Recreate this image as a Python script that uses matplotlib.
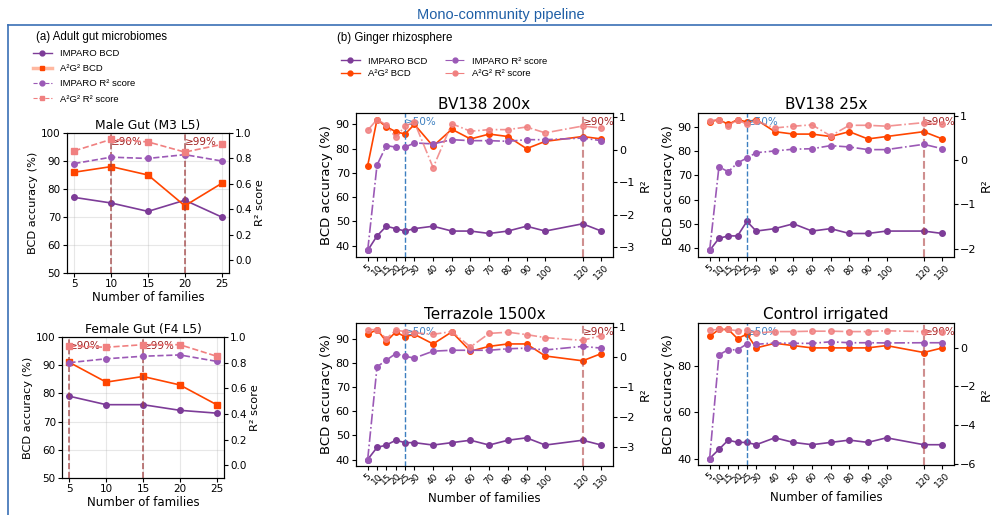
import matplotlib
matplotlib.use('Agg')
import matplotlib.pyplot as plt
from matplotlib.lines import Line2D

W, H = 992, 515

PURPLE = '#7D3C98'
LPURPLE = '#9B59B6'
ORANGE = '#FF4500'
LCORAL = '#F08080'
BLUE = '#3C7FC0'
DRED = '#A02020'
FRAME = '#3A70B5'

# ---- adult gut data ----
gut_families = [5, 10, 15, 20, 25]

male_imparo_bcd = [77, 75, 72, 76, 70]
male_a2g2_bcd = [86, 88, 85, 74, 82]
male_imparo_r2 = [0.76, 0.81, 0.80, 0.83, 0.78]
male_a2g2_r2 = [0.86, 0.95, 0.93, 0.85, 0.91]

female_imparo_bcd = [79, 76, 76, 74, 73]
female_a2g2_bcd = [91, 84, 86, 83, 76]
female_imparo_r2 = [0.80, 0.83, 0.85, 0.86, 0.81]
female_a2g2_r2 = [0.93, 0.92, 0.94, 0.94, 0.85]

# ---- ginger rhizosphere data ----
ginger_families = [5, 10, 15, 20, 25, 30, 40, 50, 60, 70, 80, 90, 100, 120, 130]

bv200_imparo_bcd = [38, 44, 48, 47, 46, 47, 48, 46, 46, 45, 46, 48, 46, 49, 46]
bv200_a2g2_bcd = [73, 92, 89, 87, 86, 90, 81, 88, 84, 86, 85, 80, 83, 85, 84]
bv200_imparo_r2 = [-3.10, -0.47, 0.13, 0.08, 0.08, 0.21, 0.18, 0.31, 0.28, 0.28, 0.26, 0.31, 0.31, 0.36, 0.28]
bv200_a2g2_r2 = [0.60, 0.93, 0.76, 0.38, 0.73, 0.85, -0.55, 0.80, 0.57, 0.62, 0.62, 0.70, 0.52, 0.73, 0.67]

bv25_imparo_bcd = [39, 44, 45, 45, 51, 47, 48, 50, 47, 48, 46, 46, 47, 47, 46]
bv25_a2g2_bcd = [92, 93, 91, 93, 92, 93, 88, 87, 87, 86, 88, 85, 86, 88, 85]
bv25_imparo_r2 = [-2.04, -0.15, -0.26, -0.06, 0.05, 0.17, 0.21, 0.25, 0.26, 0.33, 0.30, 0.24, 0.24, 0.36, 0.26]
bv25_a2g2_r2 = [0.89, 0.92, 0.78, 0.92, 0.81, 0.89, 0.73, 0.77, 0.80, 0.55, 0.79, 0.79, 0.77, 0.85, 0.81]

terra_imparo_bcd = [40, 45, 46, 48, 47, 47, 46, 47, 48, 46, 48, 49, 46, 48, 46]
terra_a2g2_bcd = [92, 94, 89, 93, 91, 92, 88, 93, 85, 87, 88, 88, 83, 81, 84]
terra_imparo_r2 = [-3.41, -0.33, -0.11, 0.11, 0.02, -0.04, 0.19, 0.22, 0.22, 0.22, 0.27, 0.29, 0.23, 0.35, 0.29]
terra_a2g2_r2 = [0.90, 0.91, 0.60, 0.89, 0.84, 0.80, 0.75, 0.84, 0.33, 0.78, 0.82, 0.74, 0.64, 0.55, 0.71]

ctrl_imparo_bcd = [40, 44, 48, 47, 47, 46, 49, 47, 46, 47, 48, 47, 49, 46, 46]
ctrl_a2g2_bcd = [93, 96, 96, 92, 94, 88, 90, 89, 88, 88, 88, 88, 89, 86, 88]
ctrl_imparo_r2 = [-5.74, -0.36, -0.09, -0.10, 0.21, 0.19, 0.26, 0.24, 0.24, 0.32, 0.27, 0.27, 0.26, 0.27, 0.27]
ctrl_a2g2_r2 = [0.92, 0.96, 0.96, 0.89, 0.92, 0.77, 0.85, 0.85, 0.87, 0.87, 0.85, 0.85, 0.89, 0.85, 0.84]

fig = plt.figure(figsize=(W / 100, H / 100), dpi=100)


def axes_px(left, top, right, bottom):
    return fig.add_axes([left / W, 1 - bottom / H, (right - left) / W, (bottom - top) / H])


def gut_panel(box, title, imp_bcd, a2_bcd, imp_r2, a2_r2, marks):
    ax = axes_px(*box)
    ax.plot(gut_families, imp_bcd, color=PURPLE, marker='o', ms=4, lw=1.2)
    ax.plot(gut_families, a2_bcd, color=ORANGE, marker='s', ms=4, lw=1.2)
    ax.set_ylim(50, 100)
    ax.set_xticks(gut_families)
    ax.grid(alpha=0.3)
    ax.tick_params(labelsize=7.5, length=3, pad=1.5)
    ax.set_title(title, fontsize=8.8, pad=3)
    ax.set_xlabel('Number of families', fontsize=8.5, labelpad=1)
    ax.set_ylabel('BCD accuracy (%)', fontsize=8.2, labelpad=2)
    for x, lab in marks:
        ax.axvline(x, color='#A04040', ls='--', lw=1.2, alpha=0.8)
        ax.text(x, 0.935, lab, transform=ax.get_xaxis_transform(), color=DRED,
                fontsize=7.5, ha='left', va='center')
    ax2 = ax.twinx()
    ax2.plot(gut_families, imp_r2, color=LPURPLE, marker='o', ms=4, lw=1.2, ls='--')
    ax2.plot(gut_families, a2_r2, color=LCORAL, marker='s', ms=4, lw=1.2, ls='--')
    ax2.set_ylim(-0.1, 1.0)
    ax2.set_yticks([0.0, 0.2, 0.4, 0.6, 0.8, 1.0])
    ax2.tick_params(labelsize=7.5, length=3, pad=1.5)
    ax2.set_ylabel('R² score', fontsize=8.2, labelpad=2)
    return ax


def ginger_panel(box, title, imp_bcd, a2_bcd, imp_r2, a2_r2, xlabel):
    ax = axes_px(*box)
    ax.plot(ginger_families, imp_bcd, color=PURPLE, marker='o', ms=4, lw=1.2)
    ax.plot(ginger_families, a2_bcd, color=ORANGE, marker='o', ms=4, lw=1.2)
    ax.set_xticks(ginger_families)
    ax.set_xticklabels([str(v) for v in ginger_families], rotation=45, fontsize=6.5)
    ax.tick_params(axis='y', labelsize=8, length=3, pad=1.5)
    ax.tick_params(axis='x', length=3, pad=1)
    ax.set_title(title, fontsize=11, pad=3)
    ax.set_ylabel('BCD accuracy (%)', fontsize=9.5, labelpad=2)
    if xlabel:
        ax.set_xlabel('Number of families', fontsize=8.5, labelpad=1)
    ax.axvline(25, color=BLUE, ls='--', lw=1)
    ax.axvline(120, color='#B04545', ls='--', lw=1.5, alpha=0.6)
    ax.text(25, 0.94, '≥50%', transform=ax.get_xaxis_transform(), color=BLUE,
            fontsize=7.5, ha='left', va='center')
    ax.text(120, 0.94, '≥90%', transform=ax.get_xaxis_transform(), color=DRED,
            fontsize=7.5, ha='left', va='center')
    ax2 = ax.twinx()
    ax2.plot(ginger_families, imp_r2, color=LPURPLE, marker='o', ms=4, lw=1.2, ls='-.')
    ax2.plot(ginger_families, a2_r2, color=LCORAL, marker='o', ms=4, lw=1.2, ls='-.', alpha=0.85)
    ax2.tick_params(labelsize=8, length=3, pad=1.5)
    ax2.set_ylabel('R²', fontsize=9, labelpad=2)
    return ax


gut_panel((67, 133, 229, 273), 'Male Gut (M3 L5)', male_imparo_bcd, male_a2g2_bcd,
          male_imparo_r2, male_a2g2_r2, [(10, '≥90%'), (20, '≥99%')])
gut_panel((62, 337, 224, 478), 'Female Gut (F4 L5)', female_imparo_bcd, female_a2g2_bcd,
          female_imparo_r2, female_a2g2_r2, [(5, '≥90%'), (15, '≥99%')])

ginger_panel((356, 113, 613, 257), 'BV138 200x', bv200_imparo_bcd, bv200_a2g2_bcd,
             bv200_imparo_r2, bv200_a2g2_r2, False)
ginger_panel((698, 113, 954, 257), 'BV138 25x', bv25_imparo_bcd, bv25_a2g2_bcd,
             bv25_imparo_r2, bv25_a2g2_r2, False)
ginger_panel((356, 323, 613, 466), 'Terrazole 1500x', terra_imparo_bcd, terra_a2g2_bcd,
             terra_imparo_r2, terra_a2g2_r2, True)
ginger_panel((698, 323, 954, 465), 'Control irrigated', ctrl_imparo_bcd, ctrl_a2g2_bcd,
             ctrl_imparo_r2, ctrl_a2g2_r2, True)

# ---- frame and headings ----
fig.add_artist(Line2D([8 / W, 1], [1 - 25 / H, 1 - 25 / H], color=FRAME, lw=1.2))
fig.add_artist(Line2D([8 / W, 8 / W], [0, 1 - 25 / H], color=FRAME, lw=1.2))
fig.text(501 / W, 1 - 15 / H, 'Mono-community pipeline', color='#1F5FA6',
         fontsize=10.5, family='Liberation Sans', ha='center', va='center')
fig.text(36 / W, 1 - 37 / H, '(a) Adult gut microbiomes', fontsize=8.3,
         family='Liberation Sans', ha='left', va='center')
fig.text(337 / W, 1 - 38 / H, '(b) Ginger rhizosphere', fontsize=8.3,
         family='Liberation Sans', ha='left', va='center')

legend_labels = ['IMPARO BCD', 'A²G² BCD', 'IMPARO R² score', 'A²G² R² score']

gut_handles = [
    Line2D([], [], color=PURPLE, marker='o', ms=3.5, lw=1),
    Line2D([], [], color='#FFB8A0', lw=2.5, marker='s', ms=3.5,
           markerfacecolor=ORANGE, markeredgecolor=ORANGE),
    Line2D([], [], color=LPURPLE, marker='o', ms=3.5, lw=0.8, ls='--'),
    Line2D([], [], color=LCORAL, marker='s', ms=3.5, lw=0.8, ls='--'),
]
fig.legend(gut_handles, legend_labels, loc='upper left', bbox_to_anchor=(33 / W, 1 - 49 / H),
           frameon=False, handlelength=2.0, handletextpad=0.85,
           borderaxespad=0, borderpad=0, labelspacing=0.66,
           prop={'family': 'Liberation Sans', 'size': 6.8})

ginger_handles = [
    Line2D([], [], color=PURPLE, marker='o', ms=3.5, lw=1),
    Line2D([], [], color=ORANGE, marker='o', ms=3.5, lw=1),
    Line2D([], [], color=LPURPLE, marker='o', ms=3.5, lw=0.8, ls='-.'),
    Line2D([], [], color=LCORAL, marker='o', ms=3.5, lw=0.8, ls='-.'),
]
fig.legend(ginger_handles, legend_labels, loc='upper left', bbox_to_anchor=(341 / W, 1 - 56.5 / H),
           ncol=2, frameon=False, handlelength=2.0, handletextpad=0.85,
           columnspacing=1.9, borderaxespad=0, borderpad=0, labelspacing=0.37,
           prop={'family': 'Liberation Sans', 'size': 6.8})

fig.savefig('out.png', dpi=100)
